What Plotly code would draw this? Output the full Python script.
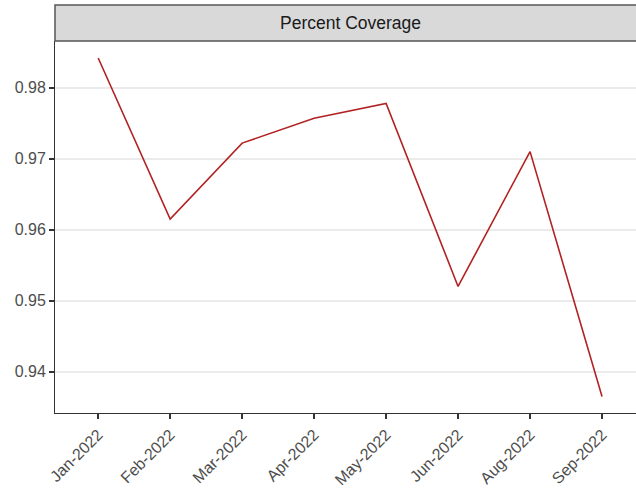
import plotly.graph_objects as go

months = ["Jan-2022", "Feb-2022", "Mar-2022", "Apr-2022", "May-2022", "Jun-2022", "Aug-2022", "Sep-2022"]
coverage = [0.9842, 0.9615, 0.9722, 0.9757, 0.9778, 0.9520, 0.9710, 0.9365]
y_ticks = [0.94, 0.95, 0.96, 0.97, 0.98]
strip_title = "Percent Coverage"

fig = go.Figure()
fig.add_trace(go.Scatter(
    x=list(range(len(months))), y=coverage, mode="lines",
    line=dict(color="#B22222", width=1.6), hoverinfo="skip", showlegend=False,
))

font_family = "Liberation Sans, Arial, sans-serif"
fig.update_layout(
    width=636, height=489,
    margin=dict(l=55, r=0, t=41, b=76),
    paper_bgcolor="white", plot_bgcolor="white",
    font=dict(family=font_family, color="#4D4D4D", size=16),
    xaxis=dict(
        range=[-0.6, 7.472], tickmode="array",
        tickvals=list(range(len(months))), ticktext=months,
        tickangle=-45, showgrid=False, zeroline=False,
        showline=True, linecolor="#333333", linewidth=1,
        ticks="outside", ticklen=5, tickcolor="#333333", tickwidth=1.5,
        tickfont=dict(size=16, color="#4D4D4D"),
    ),
    yaxis=dict(
        range=[0.93416, 0.98659], tickmode="array",
        tickvals=y_ticks, ticktext=[f"{v:.2f}" for v in y_ticks],
        showgrid=True, gridcolor="#EBEBEB", gridwidth=1.5, zeroline=False,
        showline=True, linecolor="#333333", linewidth=1,
        ticks="outside", ticklen=5, tickcolor="#333333", tickwidth=1.5,
        tickfont=dict(size=16, color="#4D4D4D"),
    ),
    shapes=[dict(
        type="rect", xref="paper", yref="paper",
        x0=0, x1=1.02, y0=1.0, y1=1 + 36 / 372,
        fillcolor="#D9D9D9", line=dict(color="#555555", width=1.5), layer="above",
    )],
    annotations=[dict(
        text=strip_title, xref="paper", yref="paper",
        x=(350 - 55) / 581, y=1 + 18 / 372, xanchor="center", yanchor="middle",
        showarrow=False, font=dict(size=17.5, color="#1A1A1A", family=font_family),
    )],
)

fig.write_html("out.html")
